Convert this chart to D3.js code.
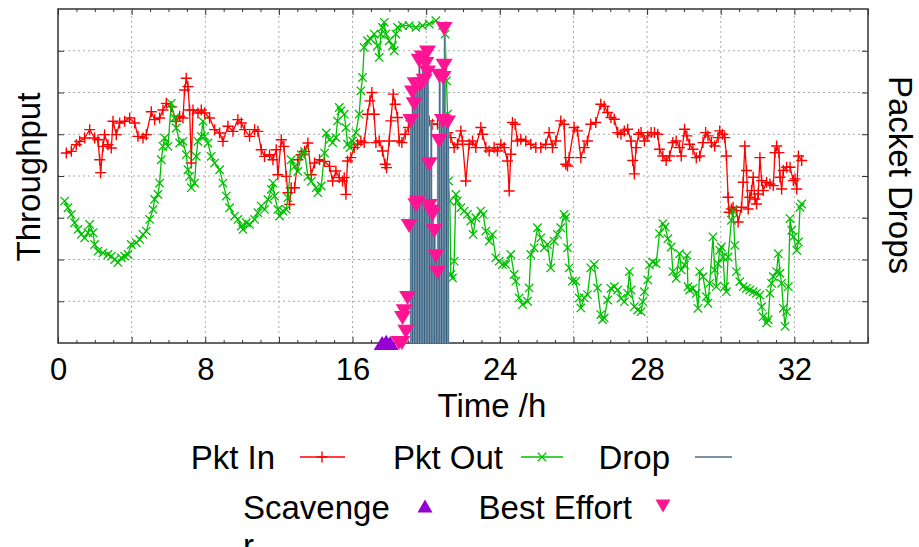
<!DOCTYPE html>
<html><head><meta charset="utf-8">
<script src="https://cdn.jsdelivr.net/npm/d3@7"></script>
<style>body{margin:0;background:#fff;} svg{display:block;} text{font-family:"Liberation Sans",Arial,sans-serif;fill:#000;}</style>
</head><body><svg id="c" width="919" height="547"></svg>
<script>
// x is in axis units (one unit per vertical grid line); labels are the original ones
const xTickValues = [0, 2, 4, 6, 8, 10];
const xTickLabels = ["0", "8", "16", "24", "28", "32"];
const seriesNames = ["Pkt In", "Pkt Out", "Drop", "Scavenger", "Best Effort"];

const pktIn = [
[0.113,4.55],[0.181,4.59],[0.249,4.75],[0.294,4.83],[0.362,4.91],[0.430,5.11],[0.498,4.91],[0.543,4.87],[0.566,4.39],[0.579,4.08],
[0.611,4.71],[0.633,4.99],[0.679,4.75],[0.724,4.67],[0.747,5.31],[0.792,4.99],[0.837,5.27],[0.905,5.31],[0.973,5.39],[1.041,5.27],
[1.086,4.95],[1.154,4.91],[1.199,4.99],[1.267,5.54],[1.312,5.35],[1.380,5.39],[1.425,5.58],[1.471,5.74],[1.538,5.66],[1.606,5.31],
[1.652,5.43],[1.697,5.39],[1.719,6.06],[1.742,6.34],[1.765,6.14],[1.787,5.58],[1.810,4.31],[1.833,5.58],[1.900,5.51],[1.946,5.58],
[1.991,5.51],[2.059,5.39],[2.127,5.11],[2.195,5.03],[2.240,4.83],[2.308,5.19],[2.376,5.07],[2.443,5.35],[2.489,5.27],[2.534,5.11],
[2.602,4.95],[2.670,5.11],[2.715,5.07],[2.760,4.63],[2.805,4.47],[2.873,4.51],[2.919,4.39],[2.964,4.63],[2.986,4.03],[3.032,4.87],
[3.068,4.71],[3.100,3.99],[3.122,3.60],[3.145,3.32],[3.167,3.72],[3.213,3.72],[3.258,4.39],[3.303,4.51],[3.348,4.59],[3.394,4.79],
[3.439,4.03],[3.484,4.31],[3.552,4.39],[3.620,4.35],[3.688,4.23],[3.729,3.88],[3.774,4.12],[3.819,3.96],[3.864,3.88],[3.887,3.96],
[3.910,3.56],[3.932,4.36],[3.977,4.44],[4.023,4.68],[4.068,4.76],[4.113,4.84],[4.158,4.80],[4.204,5.48],[4.235,5.80],[4.262,6.00],
[4.294,5.48],[4.317,4.80],[4.362,4.84],[4.407,4.60],[4.443,4.28],[4.462,4.20],[4.498,4.84],[4.520,5.32],[4.552,5.96],[4.579,5.72],
[4.611,5.40],[4.633,4.84],[4.670,4.80],[4.715,5.00],[4.760,5.16],[4.792,5.32],[4.860,5.40],[4.928,5.16],[4.973,5.32],[5.041,5.32],
[5.086,5.24],[5.154,5.24],[5.222,5.16],[5.290,5.04],[5.335,4.92],[5.380,4.68],[5.425,4.76],[5.471,5.08],[5.493,4.84],[5.538,3.88],
[5.584,4.76],[5.629,4.84],[5.674,4.68],[5.742,5.16],[5.765,5.00],[5.810,4.68],[5.855,4.60],[5.923,4.68],[5.968,4.60],[6.014,4.76],
[6.059,4.68],[6.104,4.36],[6.127,3.64],[6.149,4.52],[6.172,5.28],[6.208,5.24],[6.240,4.84],[6.285,4.88],[6.353,4.84],[6.421,4.76],
[6.489,4.68],[6.557,4.68],[6.624,4.76],[6.670,5.04],[6.715,4.68],[6.760,4.84],[6.828,5.32],[6.873,5.24],[6.896,4.28],[6.919,4.24],
[6.941,4.44],[7.009,5.16],[7.054,5.08],[7.100,4.44],[7.145,4.68],[7.190,4.84],[7.235,5.24],[7.303,5.28],[7.371,5.72],[7.418,5.67],
[7.464,5.52],[7.509,5.40],[7.555,5.36],[7.600,5.04],[7.645,5.00],[7.691,5.08],[7.736,5.12],[7.782,4.84],[7.805,4.37],[7.827,4.05],
[7.850,4.68],[7.886,5.00],[7.918,5.04],[7.964,4.84],[8.009,4.96],[8.055,5.04],[8.100,5.04],[8.145,5.00],[8.168,4.64],[8.214,4.48],
[8.259,4.37],[8.305,4.48],[8.350,4.80],[8.395,4.84],[8.441,4.68],[8.464,4.48],[8.509,5.12],[8.541,4.96],[8.577,4.76],[8.623,4.64],
[8.668,4.44],[8.714,4.48],[8.759,4.80],[8.795,5.04],[8.827,4.96],[8.873,4.80],[8.918,4.72],[8.964,4.92],[8.986,5.08],[9.023,5.00],
[9.055,4.92],[9.077,4.48],[9.100,3.49],[9.114,3.13],[9.145,3.21],[9.168,3.25],[9.214,3.17],[9.236,2.90],[9.282,3.25],[9.305,3.85],
[9.327,4.72],[9.350,4.13],[9.373,3.21],[9.395,3.49],[9.418,3.65],[9.441,3.97],[9.464,3.45],[9.486,3.33],[9.509,3.57],[9.532,4.44],
[9.555,3.89],[9.577,3.65],[9.623,3.85],[9.668,3.81],[9.714,3.77],[9.736,4.56],[9.759,4.72],[9.791,4.56],[9.805,3.97],[9.827,3.69],
[9.850,4.13],[9.895,4.21],[9.941,4.21],[9.986,3.89],[10.009,3.93],[10.032,3.69],[10.055,4.48],[10.100,4.37]
];

const pktOut = [
[0.090,3.40],[0.136,3.24],[0.181,3.08],[0.226,2.88],[0.271,2.72],[0.317,2.60],[0.362,2.52],[0.407,2.64],[0.430,2.84],[0.475,2.64],
[0.498,2.36],[0.543,2.20],[0.611,2.16],[0.679,2.12],[0.724,2.08],[0.769,2.00],[0.814,1.93],[0.860,2.04],[0.905,2.08],[0.950,2.12],
[0.995,2.36],[1.063,2.40],[1.109,2.48],[1.154,2.60],[1.199,2.68],[1.244,2.96],[1.290,3.20],[1.312,3.44],[1.357,3.56],[1.380,3.83],
[1.403,4.39],[1.425,4.71],[1.448,4.91],[1.493,4.71],[1.538,5.74],[1.584,5.39],[1.606,5.15],[1.652,4.79],[1.697,4.83],[1.742,4.51],
[1.765,4.15],[1.787,3.99],[1.810,3.72],[1.855,3.83],[1.878,4.47],[1.900,4.83],[1.946,4.95],[1.968,5.31],[1.991,4.95],[2.036,4.79],
[2.081,4.47],[2.127,4.31],[2.195,4.15],[2.240,3.83],[2.285,3.52],[2.330,3.24],[2.398,3.04],[2.443,2.96],[2.489,2.80],[2.511,2.72],
[2.557,2.88],[2.602,2.84],[2.670,2.96],[2.715,3.12],[2.760,3.28],[2.805,3.20],[2.851,3.44],[2.896,3.68],[2.919,3.83],[2.941,3.52],
[2.986,3.20],[3.009,3.04],[3.054,3.16],[3.100,3.20],[3.122,3.48],[3.167,4.39],[3.213,4.23],[3.258,4.11],[3.303,4.51],[3.348,4.59],
[3.394,3.99],[3.439,3.87],[3.507,3.72],[3.529,3.60],[3.575,3.76],[3.620,4.55],[3.643,5.03],[3.688,4.87],[3.729,4.80],[3.774,4.92],
[3.796,5.32],[3.819,5.64],[3.842,5.56],[3.887,5.48],[3.910,5.16],[3.932,4.76],[3.964,4.68],[4.000,4.84],[4.045,5.04],[4.090,5.48],
[4.113,6.04],[4.136,6.36],[4.158,7.08],[4.204,7.24],[4.249,7.28],[4.294,7.40],[4.339,7.12],[4.362,6.84],[4.385,7.40],[4.407,7.56],
[4.430,7.68],[4.452,7.40],[4.498,7.24],[4.543,7.12],[4.566,7.00],[4.588,7.40],[4.611,7.56],[4.679,7.60],[4.769,7.60],[4.860,7.56],
[4.950,7.60],[5.041,7.64],[5.131,7.72],[5.222,7.60],[5.258,7.40],[5.276,6.28],[5.290,5.48],[5.303,3.88],[5.321,3.40],[5.335,1.64],
[5.357,1.56],[5.380,1.96],[5.403,3.56],[5.425,3.40],[5.471,3.24],[5.516,3.16],[5.561,3.08],[5.606,2.92],[5.638,2.60],[5.674,3.00],
[5.742,3.16],[5.774,3.08],[5.810,2.68],[5.855,2.44],[5.900,2.60],[5.946,2.04],[5.991,1.96],[6.036,1.88],[6.081,1.88],[6.149,2.12],
[6.195,1.64],[6.217,1.48],[6.262,1.08],[6.308,0.92],[6.376,1.00],[6.398,1.32],[6.421,2.12],[6.466,2.28],[6.511,2.76],[6.557,2.52],
[6.602,2.28],[6.647,2.36],[6.692,1.80],[6.738,2.44],[6.783,2.60],[6.828,2.76],[6.873,3.08],[6.896,3.00],[6.919,2.28],[6.941,1.80],
[6.986,1.48],[7.032,1.48],[7.077,1.08],[7.100,0.84],[7.145,1.08],[7.190,1.16],[7.235,1.80],[7.281,1.88],[7.326,1.32],[7.371,0.68],
[7.394,0.56],[7.418,0.60],[7.464,1.03],[7.509,1.31],[7.555,1.35],[7.600,1.27],[7.645,1.07],[7.691,0.99],[7.736,1.19],[7.759,1.71],
[7.782,1.27],[7.827,0.87],[7.873,0.79],[7.918,0.75],[7.941,0.99],[7.964,1.23],[8.009,1.51],[8.032,1.87],[8.077,1.94],[8.123,1.90],
[8.168,2.62],[8.214,2.86],[8.245,2.78],[8.282,2.50],[8.327,2.30],[8.350,1.71],[8.395,1.55],[8.441,2.14],[8.464,1.75],[8.509,1.87],
[8.541,2.10],[8.555,1.35],[8.577,1.27],[8.623,1.31],[8.668,1.19],[8.691,0.83],[8.714,1.71],[8.759,1.59],[8.805,1.11],[8.827,0.95],
[8.850,1.43],[8.895,2.54],[8.918,1.75],[8.941,1.35],[8.964,1.90],[8.986,2.22],[9.009,2.30],[9.032,2.06],[9.055,1.35],[9.077,1.23],
[9.100,2.06],[9.145,2.94],[9.168,3.17],[9.191,2.34],[9.214,1.71],[9.259,1.47],[9.305,1.35],[9.350,1.31],[9.395,1.27],[9.441,1.23],
[9.486,1.19],[9.532,1.15],[9.555,0.87],[9.577,0.63],[9.623,0.48],[9.645,0.56],[9.668,1.19],[9.691,1.43],[9.714,1.59],[9.759,1.71],
[9.782,2.14],[9.805,1.67],[9.827,1.43],[9.850,0.83],[9.873,0.40],[9.895,0.75],[9.918,1.35],[9.941,2.98],[9.964,2.70],[9.986,2.54],
[10.032,2.22],[10.055,2.42],[10.077,3.25],[10.100,3.33]
];

const drop = [
[4.793,5.3],[4.816,6.0],[4.839,6.2],[4.862,6.0],[4.885,6.3],[4.908,6.8],[4.931,6.2],[4.954,6.85],[4.977,6.3],[5.000,6.7],
[5.023,6.95],[5.046,4.3],[5.069,5.3],[5.092,3.1],[5.115,2.7],[5.138,2.1],[5.161,4.8],[5.184,6.4],[5.207,5.3],[5.230,6.35],
[5.253,7.5],[5.276,5.3],[5.298,5.2]
];

const scavenger = [[4.402,0.0],[4.457,0.03],[4.511,0.0]];

const bestEffort = [
[4.630,0.00],[4.670,0.00],[4.679,0.60],[4.701,0.76],[4.724,0.27],[4.747,1.08],[4.769,2.80],[4.792,5.32],[4.814,6.00],[4.837,5.72],
[4.850,6.20],[4.860,3.30],[4.882,3.36],[4.905,6.76],[4.928,6.20],[4.950,6.84],[4.973,6.28],[4.995,6.68],[5.018,6.96],[5.018,6.48],
[5.041,4.28],[5.041,3.28],[5.063,3.15],[5.086,3.08],[5.109,2.68],[5.131,2.08],[5.154,1.68],[5.176,4.84],[5.176,6.40],[5.222,5.32],
[5.230,6.35],[5.244,6.64],[5.244,7.52],[5.290,5.28]
];

const colors = {pktIn:"#ff0000", pktOut:"#00c000", drop:"#34607f", scav:"#9400d3", best:"#ff1493"};

const svg = d3.select("#c");
const L = 58, R = 868, T = 9, B = 343;
const x = d3.scaleLinear().domain([0, 11]).range([L, R]);
const y = d3.scaleLinear().domain([0, 8]).range([B, T]);

// grid
const grid = svg.append("g").attr("stroke", "#a8a8a8").attr("stroke-width", 1).attr("stroke-dasharray", "2,3");
grid.selectAll("line.v").data(d3.range(1, 11)).join("line")
  .attr("x1", d => x(d)).attr("x2", d => x(d)).attr("y1", B).attr("y2", T);
grid.selectAll("line.h").data(d3.range(1, 8)).join("line").attr("class","h")
  .attr("x1", L).attr("x2", R).attr("y1", d => y(d)).attr("y2", d => y(d));

// axes
const major = d3.range(0, 12);
const minor = d3.range(0, 44).map(i => i / 4).filter(v => v % 1 !== 0);
function styleAxis(g){ g.select(".domain").remove(); g.selectAll("line").attr("stroke","#333").attr("stroke-width",1); }
svg.append("g").attr("transform", `translate(0,${B})`)
  .call(d3.axisBottom(x).tickValues(major).tickSize(-6).tickFormat(d => {const i = xTickValues.indexOf(d); return i >= 0 ? xTickLabels[i] : "";}))
  .call(styleAxis)
  .call(g => g.selectAll("text").attr("y", 37).attr("dy", 0).attr("font-size", 31).attr("fill", "#000")
    .style("font-family", '"Liberation Sans", Arial, sans-serif'));
svg.append("g").attr("transform", `translate(0,${B})`).call(d3.axisBottom(x).tickValues(minor).tickSize(-3).tickFormat("")).call(styleAxis);
svg.append("g").attr("transform", `translate(0,${T})`).call(d3.axisTop(x).tickValues(major).tickSize(-6).tickFormat("")).call(styleAxis);
svg.append("g").attr("transform", `translate(0,${T})`).call(d3.axisTop(x).tickValues(minor).tickSize(-3).tickFormat("")).call(styleAxis);
svg.append("g").attr("transform", `translate(${L},0)`).call(d3.axisLeft(y).tickValues(d3.range(1, 8)).tickSize(-6).tickFormat("")).call(styleAxis);
svg.append("g").attr("transform", `translate(${R},0)`).call(d3.axisRight(y).tickValues(d3.range(1, 8)).tickSize(-6).tickFormat("")).call(styleAxis);

svg.append("rect").attr("x", L).attr("y", T).attr("width", R - L).attr("height", B - T)
  .attr("fill", "none").attr("stroke", "#333").attr("stroke-width", 1.5);

// titles
svg.append("text").attr("x", 492).attr("y", 417).attr("text-anchor", "middle").attr("font-size", 33).text("Time /h");
svg.append("text").attr("transform", "translate(40,177) rotate(-90)").attr("text-anchor", "middle").attr("font-size", 33).text("Throughput");
svg.append("text").attr("transform", "translate(889,175) rotate(90)").attr("text-anchor", "middle").attr("font-size", 33).text("Packet Drops");

// markers
const plusPath = (s) => `M${-s},0H${s}M0,${-s}V${s}`;
const crossPath = (s) => `M${-s},${-s}L${s},${s}M${-s},${s}L${s},${-s}`;
const triUp = (w, h) => `M0,${-h/2}L${w/2},${h/2}L${-w/2},${h/2}Z`;
const triDown = (w, h) => `M0,${h/2}L${w/2},${-h/2}L${-w/2},${-h/2}Z`;

const line = d3.line().x(d => x(d[0])).y(d => y(d[1]));
const plot = svg.append("g");

// Pkt In
plot.append("path").datum(pktIn).attr("d", line).attr("fill", "none").attr("stroke", colors.pktIn).attr("stroke-width", 1.3);
plot.append("g").selectAll("path").data(pktIn).join("path")
  .attr("transform", d => `translate(${x(d[0])},${y(d[1])})`).attr("d", plusPath(5.5))
  .attr("stroke", colors.pktIn).attr("stroke-width", 1.4).attr("fill", "none");

// Pkt Out
plot.append("path").datum(pktOut).attr("d", line).attr("fill", "none").attr("stroke", colors.pktOut).attr("stroke-width", 1.3);
plot.append("g").selectAll("path").data(pktOut).join("path")
  .attr("transform", d => `translate(${x(d[0])},${y(d[1])})`).attr("d", crossPath(4.2))
  .attr("stroke", colors.pktOut).attr("stroke-width", 1.3).attr("fill", "none");

// Drop impulses
const dg = plot.append("g");
dg.selectAll("line.bg").data(drop).join("line").attr("class", "bg")
  .attr("x1", d => x(d[0])).attr("x2", d => x(d[0])).attr("y1", y(0)).attr("y2", d => y(d[1]))
  .attr("stroke", "#9fb3c4").attr("stroke-width", 2.4);
dg.selectAll("line.fg").data(drop).join("line").attr("class", "fg")
  .attr("x1", d => x(d[0])).attr("x2", d => x(d[0])).attr("y1", y(0)).attr("y2", d => y(d[1]))
  .attr("stroke", colors.drop).attr("stroke-width", 1.1);

// Scavenger
plot.append("g").selectAll("path").data(scavenger).join("path")
  .attr("transform", d => `translate(${x(d[0])},${y(d[1])})`).attr("d", triUp(17, 14)).attr("fill", colors.scav);
// Best Effort
plot.append("g").selectAll("path").data(bestEffort).join("path")
  .attr("transform", d => `translate(${x(d[0])},${y(d[1])})`).attr("d", triDown(17, 14)).attr("fill", colors.best);

// legend
const lg = svg.append("g").attr("font-size", 33);
const row1 = 469, row2 = 519;
lg.append("text").attr("x", 275).attr("y", row1).attr("text-anchor", "end").text(seriesNames[0]);
lg.append("line").attr("x1", 300).attr("x2", 345).attr("y1", row1 - 12).attr("y2", row1 - 12).attr("stroke", colors.pktIn).attr("stroke-width", 1.3);
lg.append("path").attr("transform", `translate(322,${row1 - 12})`).attr("d", plusPath(5.5)).attr("stroke", colors.pktIn).attr("stroke-width", 1.4);
lg.append("text").attr("x", 503).attr("y", row1).attr("text-anchor", "end").text(seriesNames[1]);
lg.append("line").attr("x1", 521).attr("x2", 563).attr("y1", row1 - 12).attr("y2", row1 - 12).attr("stroke", colors.pktOut).attr("stroke-width", 1.3);
lg.append("path").attr("transform", `translate(542,${row1 - 12})`).attr("d", crossPath(4.2)).attr("stroke", colors.pktOut).attr("stroke-width", 1.3);
lg.append("text").attr("x", 670).attr("y", row1).attr("text-anchor", "end").text(seriesNames[2]);
lg.append("line").attr("x1", 695).attr("x2", 732).attr("y1", row1 - 12).attr("y2", row1 - 12).attr("stroke", "#4a6e8c").attr("stroke-width", 1.5);
lg.append("text").attr("x", 243).attr("y", row2).text("Scavenge");
lg.append("text").attr("x", 243).attr("y", row2 + 38).text("r");
lg.append("path").attr("transform", `translate(425,${row2 - 13})`).attr("d", triUp(15, 13)).attr("fill", colors.scav);
lg.append("text").attr("x", 632).attr("y", row2).attr("text-anchor", "end").text(seriesNames[4]);
lg.append("path").attr("transform", `translate(663,${row2 - 13})`).attr("d", triDown(15, 13)).attr("fill", colors.best);
</script></body></html>
